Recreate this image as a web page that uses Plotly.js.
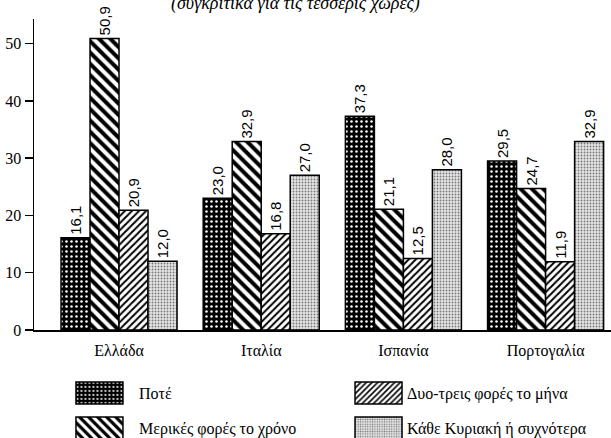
<!DOCTYPE html>
<html>
<head>
<meta charset="utf-8">
<script src="https://cdn.plot.ly/plotly-3.0.1.min.js"></script>
<style>html,body{margin:0;padding:0;background:#fff}</style>
</head>
<body>
<div id="chart" style="width:611px;height:438px"></div>
<script>
// ---- data ----
const countries = ['Ελλάδα', 'Ιταλία', 'Ισπανία', 'Πορτογαλία'];
const seriesNames = ['Ποτέ', 'Μερικές φορές το χρόνο', 'Δυο-τρεις φορές το μήνα', 'Κάθε Κυριακή ή συχνότερα'];
const never = [16.1, 23.0, 37.3, 29.5];
const fewTimesYear = [50.9, 32.9, 21.1, 24.7];
const twoThreeMonth = [20.9, 16.8, 12.5, 11.9];
const everySunday = [12.0, 27.0, 28.0, 32.9];
const yTickVals = [0, 10, 20, 30, 40, 50];
const subtitle = '(συγκριτικά για τις τέσσερις χώρες)';

// ---- styles ----
const seriesValues = [never, fewTimesYear, twoThreeMonth, everySunday];
const patterns = [
  {shape: '.', size: 5, solidity: 0.2, bgcolor: '#000', fgcolor: '#fff'},
  {shape: '\\', size: 8, solidity: 0.5, bgcolor: '#fff', fgcolor: '#000'},
  {shape: '/', size: 5, solidity: 0.4, bgcolor: '#fff', fgcolor: '#000'},
  {shape: '.', size: 3, solidity: 0.3, bgcolor: '#e6e6e6', fgcolor: '#777'}
];
const legendIds = ['legend', 'legend2', 'legend3', 'legend4'];
const serif = 'Liberation Serif';

const traces = seriesNames.map((name, i) => ({
  type: 'bar',
  name: name,
  x: countries,
  y: seriesValues[i],
  legend: legendIds[i],
  marker: {color: '#000', pattern: patterns[i], line: {color: '#000', width: 1.5}},
  texttemplate: '%{y:.1f}',
  textposition: 'outside',
  textangle: -90,
  constraintext: 'none',
  cliponaxis: false,
  textfont: {family: 'Liberation Sans', size: 15, color: '#000'},
  hoverinfo: 'skip'
}));

function legendAt(x, y, w) {
  return {x: x, y: y, xanchor: 'left', yanchor: 'middle', itemwidth: w,
    bgcolor: 'rgba(0,0,0,0)', borderwidth: 0,
    font: {family: serif, size: 16, color: '#000'}};
}

const layout = {
  width: 611, height: 438,
  margin: {l: 34, r: 0, t: 19, b: 108, autoexpand: false},
  paper_bgcolor: '#fff', plot_bgcolor: '#fff',
  separators: ',.',
  barmode: 'group', bargap: 0.184, bargroupgap: 0,
  showlegend: true,
  font: {family: serif, size: 16, color: '#000'},
  xaxis: {
    type: 'category', range: [-0.598, 3.46],
    showline: true, linecolor: '#000', linewidth: 1.5,
    ticks: '', showgrid: false, zeroline: false,
    ticklabelstandoff: 5,
    tickfont: {family: serif, size: 16, color: '#000'},
    fixedrange: true
  },
  yaxis: {
    range: [0, 54.3], tickvals: yTickVals,
    showline: true, linecolor: '#000', linewidth: 1.5,
    ticks: 'outside', ticklen: 8, tickwidth: 1.5, tickcolor: '#000',
    showgrid: false, zeroline: false,
    tickfont: {family: serif, size: 16, color: '#000'},
    fixedrange: true
  },
  legend: legendAt(0.045, -0.2026, 69),
  legend2: legendAt(0.045, -0.3151, 69),
  legend3: legendAt(0.5477, -0.2026, 47),
  legend4: legendAt(0.5477, -0.3151, 47),
  annotations: [{
    text: subtitle, xref: 'paper', yref: 'paper', x: 0.454, y: 1.05,
    xanchor: 'center', yanchor: 'middle', showarrow: false,
    font: {family: serif, size: 18, style: 'italic', color: '#000'}
  }]
};

Plotly.newPlot('chart', traces, layout, {displayModeBar: false, staticPlot: true}).then(gd => {
  gd.querySelectorAll('.legendpoints path').forEach(p => {
    p.setAttribute('d', 'M-23.5,-11H23.5V11H-23.5Z');
  });
});
</script>
</body>
</html>
